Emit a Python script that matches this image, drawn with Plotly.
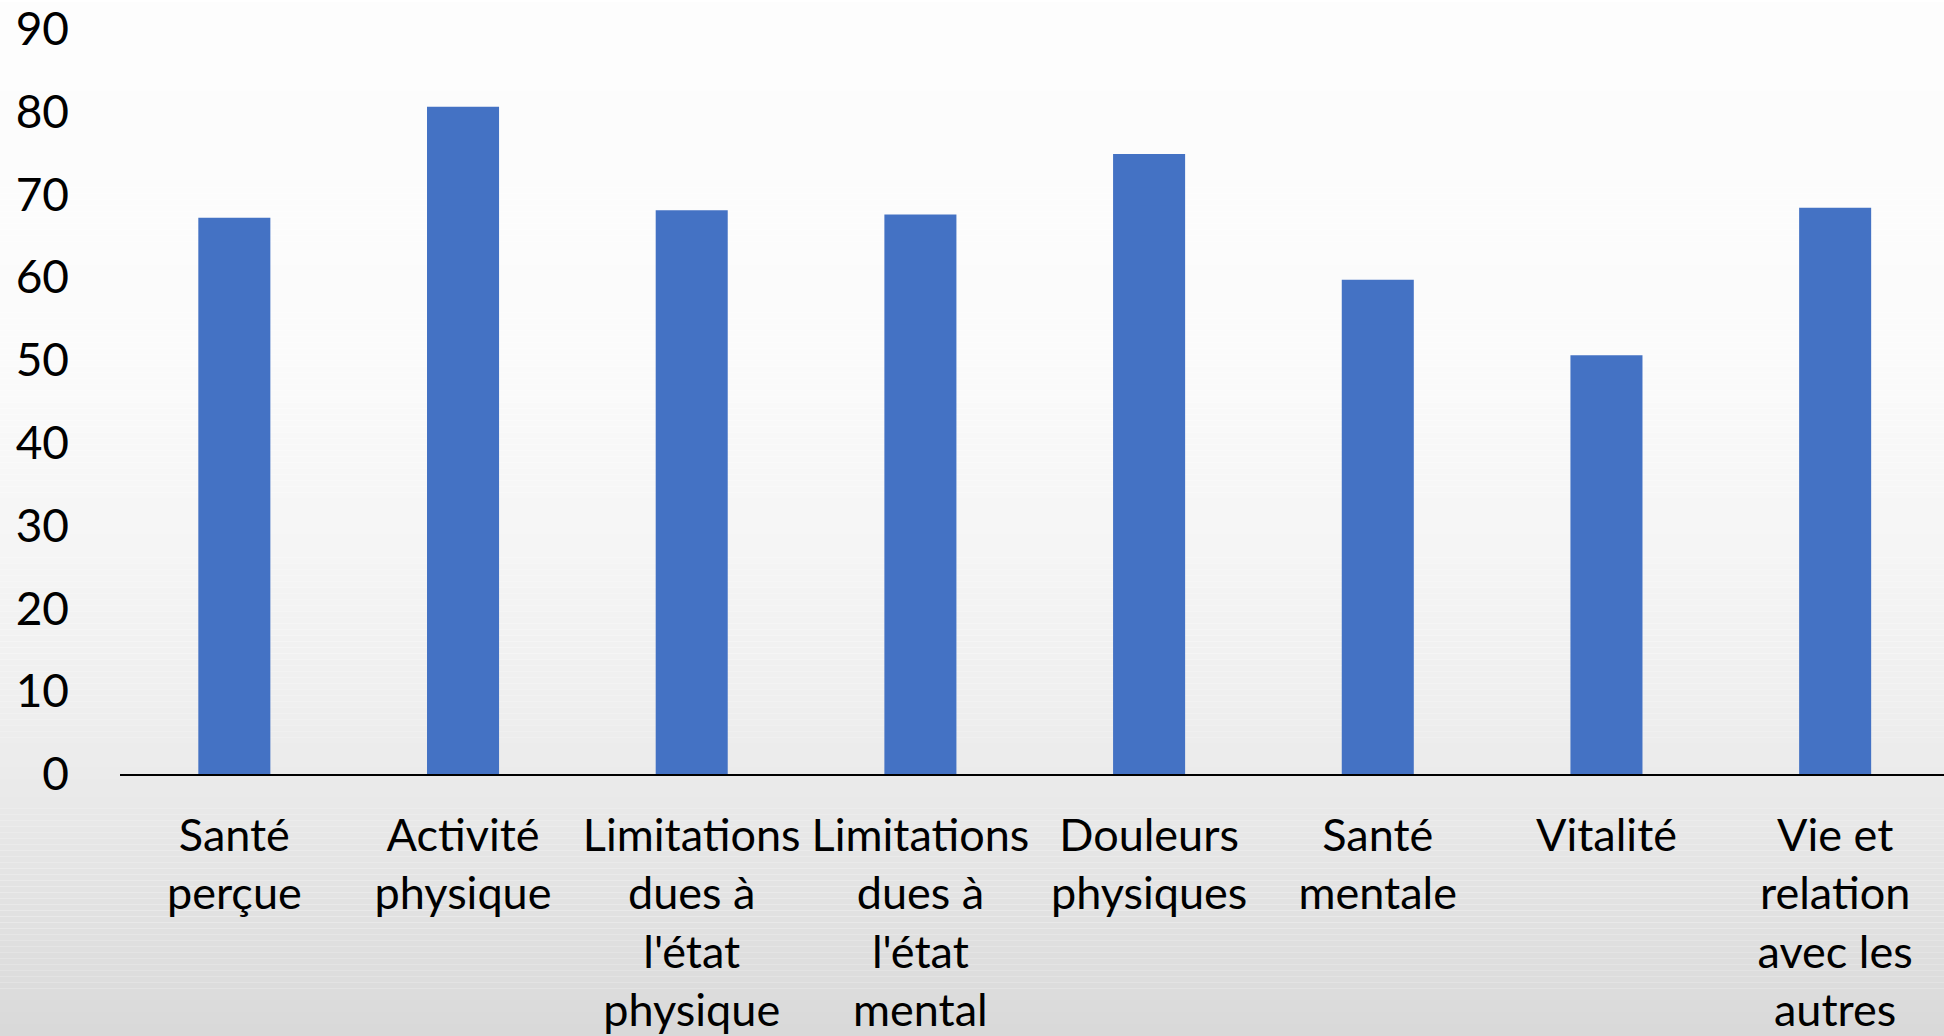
import plotly.graph_objects as go

categories = [
    ["Santé", "perçue"],
    ["Activité", "physique"],
    ["Limitations", "dues à", "l'état", "physique"],
    ["Limitations", "dues à", "l'état", "mental"],
    ["Douleurs", "physiques"],
    ["Santé", "mentale"],
    ["Vitalité"],
    ["Vie et", "relation", "avec les", "autres"],
]
values = [67.2, 80.6, 68.1, 67.6, 74.9, 59.7, 50.6, 68.4]
y_ticks = [0, 10, 20, 30, 40, 50, 60, 70, 80, 90]

labels = ["<br>".join(c) for c in categories]

W, H = 1944, 1036
ML, MR, MT, MB = 120, 0, 27, 261
plot_h = H - MT - MB

fig = go.Figure()
fig.add_trace(go.Bar(
    x=labels, y=values,
    marker=dict(color="#4472C4", line=dict(width=0)),
    showlegend=False,
))

# vertical background gradient (page pixel rows -> grey level)
stops = [(0, 253), (350, 251), (550, 245), (700, 239), (775, 235), (1036, 217)]
def grey_at(py):
    for (a, ga), (b, gb) in zip(stops[:-1], stops[1:]):
        if a <= py <= b:
            t = (py - a) / (b - a)
            return ga + (gb - ga) * t
    return stops[-1][1]

shapes = []
step = 6
for py in range(0, H, step):
    g = int(round(grey_at(py + step / 2)))
    y0 = (H - MB - (py + step)) / plot_h
    y1 = (H - MB - py) / plot_h
    shapes.append(dict(
        type="rect", xref="paper", yref="paper",
        x0=-ML / (W - ML - MR) - 0.01, x1=1.01, y0=y0, y1=y1,
        fillcolor=f"rgb({g},{g},{g})", line=dict(width=0), layer="below",
    ))

fig.update_layout(
    width=W, height=H,
    margin=dict(l=ML, r=MR, t=MT, b=MB, pad=0),
    paper_bgcolor="rgba(0,0,0,0)",
    plot_bgcolor="rgba(0,0,0,0)",
    bargap=0.685,
    shapes=shapes,
    font=dict(family="Lato", size=45, color="#000000"),
    xaxis=dict(
        range=[-0.5, 7.476],
        showline=True, linecolor="#000000", linewidth=1.5,
        showgrid=False, zeroline=False, ticks="",
        tickfont=dict(family="Lato", size=45, color="#000000"),
        ticklabelstandoff=21,
        fixedrange=True,
    ),
    yaxis=dict(
        range=[0, 90], tickvals=y_ticks,
        showline=False, showgrid=False, zeroline=False, ticks="",
        tickfont=dict(family="Lato", size=46, color="#000000"),
        ticklabelstandoff=50,
        ticklabeloverflow="allow",
        fixedrange=True,
    ),
)

fig.write_html("out.html", config=dict(displayModeBar=False))
